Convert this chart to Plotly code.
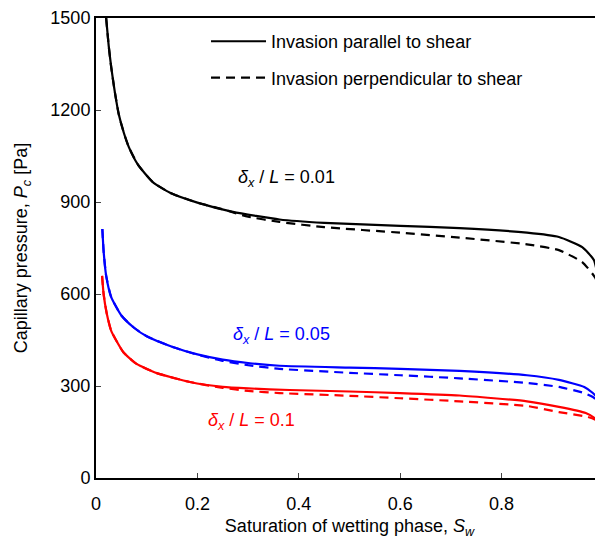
import plotly.graph_objects as go

# ---- data ----
sw_b_solid = [0.02, 0.025, 0.03, 0.037, 0.045, 0.055, 0.065, 0.083, 0.112, 0.146, 0.2, 0.27, 0.362, 0.45, 0.6, 0.717, 0.85, 0.913, 0.959, 0.982, 0.992, 0.997, 1.0]
pc_b_solid = [1500, 1410, 1340, 1260, 1185, 1125, 1078, 1021, 965, 930, 898, 868, 843, 832, 822, 815, 800, 786, 753, 711, 636, 570, 492]
sw_b_dash = [0.02, 0.025, 0.03, 0.037, 0.045, 0.055, 0.065, 0.083, 0.112, 0.146, 0.2, 0.25, 0.3, 0.362, 0.45, 0.6, 0.717, 0.85, 0.913, 0.959, 0.985, 0.993, 0.996]
pc_b_dash = [1500, 1410, 1340, 1260, 1185, 1125, 1078, 1021, 965, 930, 898, 876, 852, 835, 818, 800, 784, 762, 743, 704, 652, 600, 560]

sw_u_solid = [0.0125, 0.015, 0.02, 0.03, 0.05, 0.075, 0.1, 0.15, 0.2, 0.25, 0.3, 0.362, 0.5, 0.6, 0.717, 0.85, 0.913, 0.963, 0.98, 0.992, 1.0]
pc_u_solid = [812, 740, 660, 590, 530, 490, 462, 428, 403, 386, 375, 366, 360, 356, 349, 335, 320, 297, 277, 255, 228]
sw_u_dash = [0.0125, 0.015, 0.02, 0.03, 0.05, 0.075, 0.1, 0.15, 0.2, 0.25, 0.3, 0.362, 0.5, 0.6, 0.717, 0.85, 0.913, 0.963, 0.98, 0.99]
pc_u_dash = [812, 740, 660, 590, 530, 490, 462, 428, 402, 382, 368, 356, 343, 335, 325, 310, 297, 277, 264, 250]

sw_r_solid = [0.012, 0.015, 0.021, 0.03, 0.054, 0.08, 0.12, 0.185, 0.25, 0.3, 0.382, 0.5, 0.6, 0.717, 0.85, 0.913, 0.966, 0.983, 0.993, 1.0]
pc_r_solid = [659, 600, 538, 480, 410, 372, 342, 313, 297, 292, 287, 282, 277, 269, 250, 232, 212, 196, 180, 166]
sw_r_dash = [0.012, 0.015, 0.021, 0.03, 0.054, 0.08, 0.12, 0.185, 0.25, 0.3, 0.362, 0.5, 0.6, 0.717, 0.85, 0.913, 0.97, 0.985, 0.99]
pc_r_dash = [659, 600, 538, 480, 410, 372, 342, 313, 294, 284, 277, 268, 260, 250, 235, 215, 199, 190, 185]

x_ticks = [0, 0.2, 0.4, 0.6, 0.8, 1]
x_ticklabels = ["0", "0.2", "0.4", "0.6", "0.8", "1"]
y_ticks = [0, 300, 600, 900, 1200, 1500]

labels = ["<i>δ<sub>x</sub></i> / <i>L</i> = 0.01", "<i>δ<sub>x</sub></i> / <i>L</i> = 0.05", "<i>δ<sub>x</sub></i> / <i>L</i> = 0.1"]
label_x = [0.376, 0.366, 0.307]
label_y = [978, 466, 185]
colors = ["#000000", "#0000FF", "#FF0000"]

FONT = "Liberation Sans, Arial, sans-serif"
FS = 18
DASH = "9px,6px"
W = 2.2

fig = go.Figure()
series = [
    (sw_b_solid, pc_b_solid, sw_b_dash, pc_b_dash),
    (sw_u_solid, pc_u_solid, sw_u_dash, pc_u_dash),
    (sw_r_solid, pc_r_solid, sw_r_dash, pc_r_dash),
]
for i, (xs, ys, xd, yd) in enumerate(series):
    fig.add_trace(go.Scatter(x=xd, y=yd, mode="lines", line=dict(color=colors[i], width=W, dash=DASH, shape="spline", smoothing=0.5),
                             name="Invasion perpendicular to shear", showlegend=(i == 0), legendgroup="b", legendrank=2))
    fig.add_trace(go.Scatter(x=xs, y=ys, mode="lines", line=dict(color=colors[i], width=W, shape="spline", smoothing=0.5),
                             name="Invasion parallel to shear", showlegend=(i == 0), legendgroup="a", legendrank=1))

for t, x, y, c in zip(labels, label_x, label_y, colors):
    fig.add_annotation(x=x, y=y, text=t, showarrow=False, font=dict(family=FONT, size=FS, color=c))

# page body has an 8px margin, so the figure is laid out 8px smaller and shifted
fig.update_layout(
    width=595, height=531,
    margin=dict(l=88, r=0, t=10, b=61, autoexpand=False),
    plot_bgcolor="white", paper_bgcolor="white",
    font=dict(family=FONT, size=FS, color="#000000"),
    legend=dict(x=0.217, y=0.989, xanchor="left", yanchor="top", bgcolor="rgba(0,0,0,0)",
                font=dict(size=FS), traceorder="grouped", tracegroupgap=10, itemwidth=55),
    xaxis=dict(range=[0, 1], tickvals=x_ticks, ticktext=x_ticklabels, ticks="inside", ticklen=5,
               showline=True, linecolor="#000000", linewidth=2, mirror=True, showgrid=False, zeroline=False,
               automargin=False, ticklabelstandoff=8,
               title=dict(text="Saturation of wetting phase, <i>S<sub>w</sub></i>", font=dict(size=FS), standoff=12)),
    yaxis=dict(range=[0, 1500], tickvals=y_ticks, ticks="inside", ticklen=5,
               showline=True, linecolor="#000000", linewidth=2, mirror=True, showgrid=False, zeroline=False,
               automargin=False,
               title=dict(text="Capillary pressure, <i>P<sub>c</sub></i> [Pa]", font=dict(size=FS), standoff=18)),
)

fig.write_html("out.html")
